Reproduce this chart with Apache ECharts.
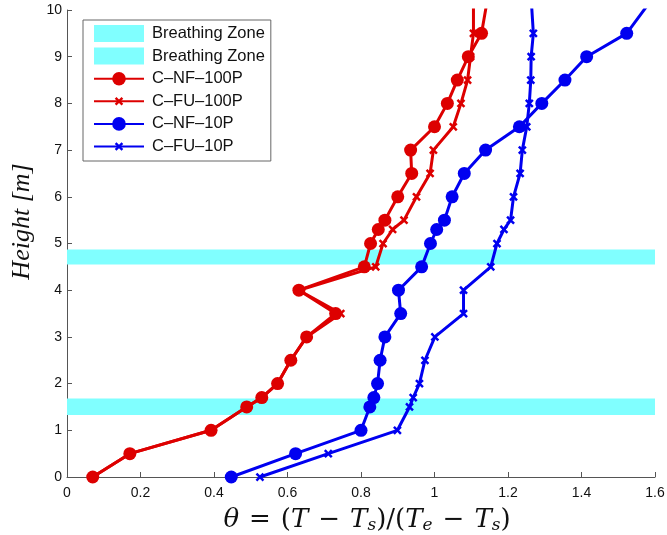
<!DOCTYPE html>
<html>
<head>
<meta charset="utf-8">
<script src="https://cdn.jsdelivr.net/npm/echarts@6/dist/echarts.min.js"></script>
<style>html,body{margin:0;padding:0;background:#fff}#c{width:667px;height:535px}</style>
</head>
<body>
<div id="c"></div>
<script>
// Heights [m]
const heights = [0, 0.5, 1, 1.5, 1.7, 2, 2.5, 3, 3.5, 4, 4.5, 5, 5.3, 5.5, 6, 6.5, 7, 7.5, 8, 8.5, 9, 9.5, 10.5];
// theta values per series
const cNF100P = [0.07, 0.171, 0.392, 0.489, 0.53, 0.573, 0.609, 0.652, 0.731, 0.631, 0.809, 0.826, 0.847, 0.865, 0.9, 0.938, 0.935, 1.0, 1.035, 1.062, 1.092, 1.128, 1.15];
const cFU100P = [0.07, 0.171, 0.392, 0.489, 0.53, 0.573, 0.609, 0.652, 0.745, 0.631, 0.84, 0.86, 0.886, 0.917, 0.951, 0.988, 0.997, 1.051, 1.072, 1.09, 1.098, 1.106, 1.106];
const cNF10P  = [0.447, 0.622, 0.8, 0.824, 0.835, 0.845, 0.852, 0.865, 0.908, 0.902, 0.965, 0.989, 1.006, 1.027, 1.048, 1.081, 1.139, 1.231, 1.292, 1.355, 1.414, 1.523, 1.617];
const cFU10P  = [0.525, 0.711, 0.899, 0.932, 0.942, 0.959, 0.974, 1.001, 1.079, 1.079, 1.153, 1.17, 1.189, 1.207, 1.215, 1.233, 1.239, 1.251, 1.258, 1.262, 1.263, 1.269, 1.261];
// Breathing zones [low, high] heights
const zoneLow  = [1.33, 1.68];
const zoneHigh = [4.55, 4.87];
const xTicks = ['0', '0.2', '0.4', '0.6', '0.8', '1', '1.2', '1.4', '1.6'];

const RED = '#dd0000', BLUE = '#0000f0', CYAN = '#80ffff';
const crossPath = 'path://M0,0 L0.01,0 L0.01,0.01 Z M3,5 L5,3 L8,6 L11,3 L13,5 L10,8 L13,11 L11,13 L8,10 L5,13 L3,11 L6,8 Z M15.99,15.99 L16,15.99 L16,16 Z';

function pairs(vals) { return vals.map((v, i) => [v, heights[i]]); }

function zoneSeries(name, zone) {
  return {
    name: name, type: 'custom', z: 1,
    itemStyle: { color: CYAN },
    data: [[zone[0], zone[1]]],
    encode: { y: [0, 1] },
    renderItem: function (params, api) {
      const p1 = api.coord([0, api.value(0)]);
      const p2 = api.coord([1.6, api.value(1)]);
      return { type: 'rect', shape: { x: p1[0], y: p2[1], width: p2[0] - p1[0], height: p1[1] - p2[1] }, style: { fill: CYAN } };
    }
  };
}
function lineSeries(name, vals, color, symbol, size) {
  return {
    name: name, type: 'line', z: 3, data: pairs(vals),
    symbol: symbol, symbolSize: size, showSymbol: true,
    lineStyle: { color: color, width: 3 }, itemStyle: { color: color },
    clip: true, animation: false
  };
}

const SERIF = 'DejaVu Serif';
const chart = echarts.init(document.getElementById('c'));
chart.setOption({
  animation: false,
  grid: { left: 67, right: 12, top: 10, bottom: 58, containLabel: false, outerBoundsMode: 'none' },
  xAxis: {
    type: 'value', min: 0, max: 1.6, interval: 0.2,
    axisLine: { lineStyle: { color: '#555', width: 1 } },
    axisTick: { inside: true, length: 5, lineStyle: { color: '#555' } },
    splitLine: { show: false },
    axisLabel: { color: '#111', fontFamily: 'Liberation Sans', fontSize: 14, margin: 9,
      formatter: function (v) { return xTicks[Math.round(v / 0.2)]; } },
    name: '{i|θ}{op|=}{p|(}{i|T}{op|−}{i|T}{s|s}{p|)/(}{i|T}{s|e}{op|−}{i|T}{s|s}{p|)}',
    nameLocation: 'middle', nameGap: 29,
    nameTextStyle: {
      fontFamily: SERIF, fontSize: 26, color: '#111', padding: [0, 0, 0, 12],
      rich: {
        i: { fontFamily: SERIF, fontStyle: 'italic', fontSize: 26, color: '#111' },
        p: { fontFamily: SERIF, fontSize: 26, color: '#111' },
        op: { fontFamily: SERIF, fontSize: 26, color: '#111', padding: [0, 10, 0, 10] },
        s: { fontFamily: SERIF, fontStyle: 'italic', fontSize: 17, color: '#111', verticalAlign: 'bottom', padding: [11, 0, 0, 0] }
      }
    }
  },
  yAxis: {
    type: 'value', min: 0, max: 10, interval: 1,
    axisLine: { lineStyle: { color: '#555', width: 1 } },
    axisTick: { inside: true, length: 5, lineStyle: { color: '#555' } },
    splitLine: { show: false },
    axisLabel: { color: '#111', fontFamily: 'Liberation Sans', fontSize: 14, margin: 5 },
    name: 'Height [m]', nameLocation: 'middle', nameGap: 30,
    nameTextStyle: { fontFamily: 'Liberation Serif', fontStyle: 'italic', fontSize: 26, color: '#111', padding: [0, 0, 0, 44] }
  },
  legend: {
    orient: 'vertical', left: 83, top: 20,
    padding: [5, 6, 6, 10], itemGap: 5.6, itemWidth: 50, itemHeight: 17,
    backgroundColor: '#fff', borderColor: '#666', borderWidth: 1,
    textStyle: { fontFamily: 'Liberation Sans', fontSize: 16.5, color: '#111', padding: [0, 0, 0, 3] },
    formatter: function (n) { return n.trim(); },
    data: [
      { name: 'Breathing Zone', icon: 'rect' },
      { name: 'Breathing Zone ', icon: 'rect' },
      'C–NF–100P', 'C–FU–100P', 'C–NF–10P', 'C–FU–10P'
    ]
  },
  series: [
    zoneSeries('Breathing Zone', zoneLow),
    zoneSeries('Breathing Zone ', zoneHigh),
    lineSeries('C–NF–100P', cNF100P, RED, 'circle', 13),
    lineSeries('C–FU–100P', cFU100P, RED, crossPath, 14),
    lineSeries('C–NF–10P', cNF10P, BLUE, 'circle', 13),
    lineSeries('C–FU–10P', cFU10P, BLUE, crossPath, 14)
  ]
});
</script>
</body>
</html>
